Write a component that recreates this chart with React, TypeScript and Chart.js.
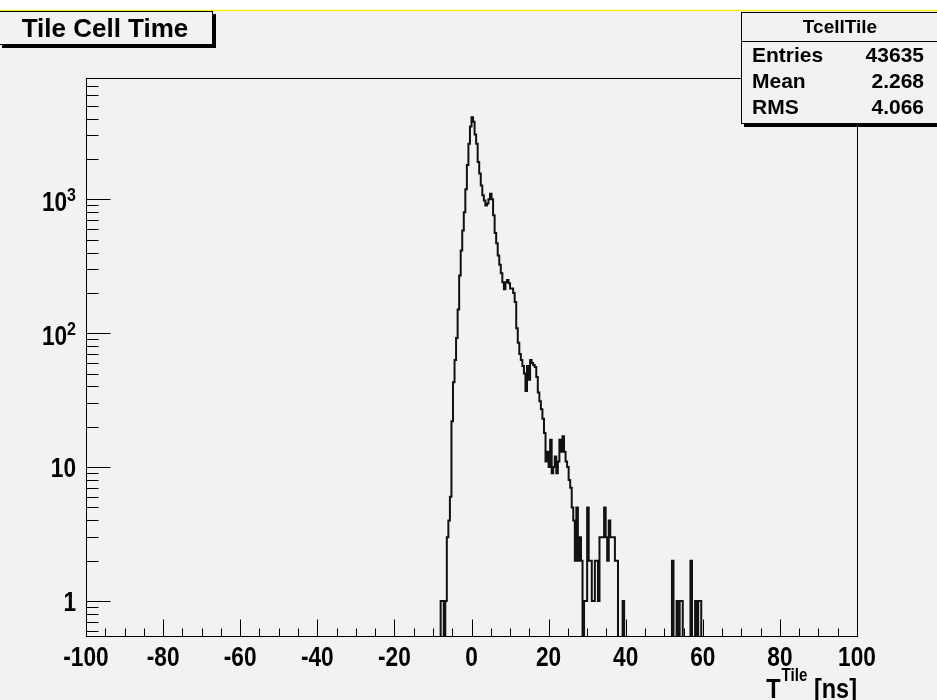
import React, { useEffect, useRef } from "react";
import { Chart, registerables } from "chart.js";

Chart.register(...registerables);

// ---------------- data ----------------
const histTitle = "Tile Cell Time";
const statsName = "TcellTile";
const statsLabels = ["Entries", "Mean", "RMS"];
const statsValues = ["43635", "2.268", "4.066"];

const xMin = -100;
const xMax = 100;
const yMin = 0.548;
const yMax = 8050;

// histogram: 0.4 ns bins, first listed bin starts at -8.4 ns (all other bins are empty)
const binWidth = 0.4;
const firstBinLow = -8.4;
const counts = [
  0, 1, 1, 0, 1, 3, 4, 6, 22, 43,
  63, 92, 150, 270, 415, 585, 800, 1190, 1800, 2600,
  3500, 4100, 3800, 3050, 2600, 1900, 1560, 1270, 1070, 980,
  900, 930, 1000, 1100, 1000, 760, 560, 470, 380, 324,
  280, 240, 213, 240, 250, 236, 216, 216, 200, 171,
  109, 85, 70, 63, 57, 50, 37, 57, 45, 63,
  60, 58, 56, 47, 36, 31, 27, 23, 18, 11,
  13, 10, 16, 9, 10, 12, 9, 11, 16, 13,
  17, 13, 11, 10, 8, 7, 5, 4, 2, 5,
  2, 3, 2, 0, 1, 1, 5, 2, 2, 1,
  1, 2, 2, 1, 3, 3, 3, 5, 3, 2,
  4, 3, 3, 3, 2, 2, 0, 0, 0, 1,
  0, 0, 0, 0, 0, 0, 0, 0, 0, 0,
  0, 0, 0, 0, 0, 0, 0, 0, 0, 0,
  0, 0, 0, 0, 0, 0, 0, 0, 0, 0,
  0, 2, 0, 0, 1, 0, 1, 1, 0, 0,
  0, 0, 0, 2, 0, 0, 1, 0, 1, 1,
  0,
];
// empty bins are drawn below the frame (log axis) and clipped, like ROOT does
const emptyBinFloor = 1e-3;

const xMajorTicks = [-100, -80, -60, -40, -20, 0, 20, 40, 60, 80, 100];
const xTickLabels = ["-100", "-80", "-60", "-40", "-20", "0", "20", "40", "60", "80", "100"];
const xMinorStep = 5;
const yMajorTicks = [1, 10, 100, 1000];
const yTickBase = ["1", "10", "10", "10"];
const yTickExp = ["", "", "2", "3"];
const xTitleMain = "T";
const xTitleSup = "Tile";
const xTitleTail = " [ns]";

// ---------------- drawing helpers ----------------
const FONT = '"Liberation Sans", Arial, Helvetica, sans-serif';
const NARROW = 0.84;

function txt(
  ctx: CanvasRenderingContext2D,
  s: string,
  x: number,
  y: number,
  size: number,
  align: CanvasTextAlign,
  sx = 1
) {
  ctx.save();
  ctx.translate(x, y);
  ctx.scale(sx, 1);
  ctx.font = `bold ${size}px ${FONT}`;
  ctx.textAlign = align;
  ctx.textBaseline = "alphabetic";
  ctx.fillStyle = "#000";
  ctx.fillText(s, 0, 0);
  ctx.restore();
}

function width(ctx: CanvasRenderingContext2D, s: string, size: number, sx = 1) {
  ctx.save();
  ctx.font = `bold ${size}px ${FONT}`;
  const w = ctx.measureText(s).width * sx;
  ctx.restore();
  return w;
}

function hline(ctx: CanvasRenderingContext2D, x1: number, x2: number, y: number) {
  ctx.beginPath();
  ctx.moveTo(x1, y);
  ctx.lineTo(x2, y);
  ctx.stroke();
}
function vline(ctx: CanvasRenderingContext2D, x: number, y1: number, y2: number) {
  ctx.beginPath();
  ctx.moveTo(x, y1);
  ctx.lineTo(x, y2);
  ctx.stroke();
}

const rootPlugin = {
  id: "rootStyle",
  beforeDraw(chart: any) {
    const { ctx, width: w, height: h } = chart;
    ctx.save();
    ctx.fillStyle = "#ffffff";
    ctx.fillRect(0, 0, w, h);
    ctx.fillStyle = "#f2f2f2";
    ctx.fillRect(0, 11, w, h - 11);
    ctx.strokeStyle = "#f2ef1a";
    ctx.lineWidth = 1.5;
    hline(ctx, 0, w, 10.5);
    ctx.restore();
  },
  afterDatasetsDraw(chart: any) {
    const { ctx } = chart;
    const { left, right, top, bottom } = chart.chartArea;
    const xs = chart.scales.x;
    const ys = chart.scales.y;
    ctx.save();
    ctx.strokeStyle = "#000";
    ctx.lineWidth = 1;
    const L = Math.round(left) + 0.5;
    const R = Math.round(right) + 0.5;
    const T = Math.round(top) + 0.5;
    const B = Math.round(bottom) + 0.5;
    // frame
    ctx.strokeRect(L, T, R - L, B - T);

    // x ticks
    for (let v = xMin; v <= xMax + 1e-9; v += xMinorStep) {
      const px = Math.round(xs.getPixelForValue(v)) + 0.5;
      const major = xMajorTicks.includes(v);
      vline(ctx, px, B, B - (major ? 17 : 8));
    }
    xMajorTicks.forEach((v, i) => {
      const px = xs.getPixelForValue(v);
      txt(ctx, xTickLabels[i], px, 666, 27, "center", NARROW);
    });

    // y ticks
    for (let d = -1; d <= 3; d++) {
      for (let m = 1; m <= 9; m++) {
        const v = m * Math.pow(10, d);
        if (v < yMin || v > yMax) continue;
        const py = Math.round(ys.getPixelForValue(v)) + 0.5;
        hline(ctx, L, L + (m === 1 ? 24 : 12), py);
      }
    }
    yMajorTicks.forEach((v, i) => {
      const py = ys.getPixelForValue(v);
      const rightEdge = 76;
      if (yTickExp[i]) {
        const we = width(ctx, yTickExp[i], 19, NARROW);
        txt(ctx, yTickExp[i], rightEdge, py + 2, 19, "right", NARROW);
        txt(ctx, yTickBase[i], rightEdge - we, py + 12, 27, "right", NARROW);
      } else {
        txt(ctx, yTickBase[i], rightEdge, py + 10, 27, "right", NARROW);
      }
    });

    // x axis title  T^{Tile} [ns]
    {
      const right0 = 857;
      const wTail = width(ctx, xTitleTail, 28, NARROW);
      const wSup = width(ctx, xTitleSup, 18, NARROW);
      txt(ctx, xTitleTail, right0, 698, 28, "right", NARROW);
      txt(ctx, xTitleSup, right0 - wTail, 681, 18, "right", NARROW);
      txt(ctx, xTitleMain, right0 - wTail - wSup - 1, 698, 28, "right", NARROW);
    }

    // title box
    ctx.fillStyle = "#000";
    ctx.fillRect(213, 14, 3, 34);
    ctx.fillRect(2, 45, 214, 3);
    ctx.fillStyle = "#f2f2f2";
    ctx.fillRect(0, 12, 212, 32);
    ctx.strokeRect(-1.5, 11.5, 214, 33);
    txt(ctx, histTitle, 105, 37, 26, "center");

    // stats box
    ctx.fillStyle = "#000";
    ctx.fillRect(744, 124, 200, 3);
    ctx.fillStyle = "#f2f2f2";
    ctx.fillRect(742, 13, 200, 110);
    ctx.strokeRect(741.5, 12.5, 220, 111);
    hline(ctx, 741.5, 937, 41.5);
    txt(ctx, statsName, 840, 33, 19, "center");
    statsLabels.forEach((s, i) => {
      const by = 61.5 + i * 26;
      txt(ctx, s, 752, by, 21, "left");
      txt(ctx, statsValues[i], 924, by, 21, "right");
    });
    ctx.restore();
  },
};

export default function App() {
  const ref = useRef<HTMLCanvasElement | null>(null);
  useEffect(() => {
    document.body.style.margin = "0";
    const canvas = ref.current;
    if (!canvas) return;
    const points: { x: number; y: number }[] = [{ x: xMin, y: emptyBinFloor }];
    counts.forEach((c, i) =>
      points.push({ x: firstBinLow + i * binWidth, y: c > 0 ? c : emptyBinFloor })
    );
    points.push({ x: firstBinLow + counts.length * binWidth, y: emptyBinFloor });
    points.push({ x: xMax, y: emptyBinFloor });

    const chart = new Chart(canvas, {
      type: "line",
      data: {
        datasets: [
          {
            data: points,
            borderColor: "#111",
            borderWidth: 2,
            pointRadius: 0,
            stepped: "before",
            fill: false,
            tension: 0,
          } as any,
        ],
      },
      options: {
        animation: false,
        responsive: false,
        maintainAspectRatio: false,
        events: [],
        layout: { padding: { left: 86, right: 80, top: 78, bottom: 64 } },
        scales: {
          x: { type: "linear", min: xMin, max: xMax, display: false },
          y: { type: "logarithmic", min: yMin, max: yMax, display: false },
        },
        plugins: {
          legend: { display: false },
          tooltip: { enabled: false },
          title: { display: false },
        },
      },
      plugins: [rootPlugin],
    });
    return () => chart.destroy();
  }, []);
  return (
    <div style={{ width: 937, height: 700 }}>
      <canvas ref={ref} width={937} height={700} style={{ display: "block" }} />
    </div>
  );
}
